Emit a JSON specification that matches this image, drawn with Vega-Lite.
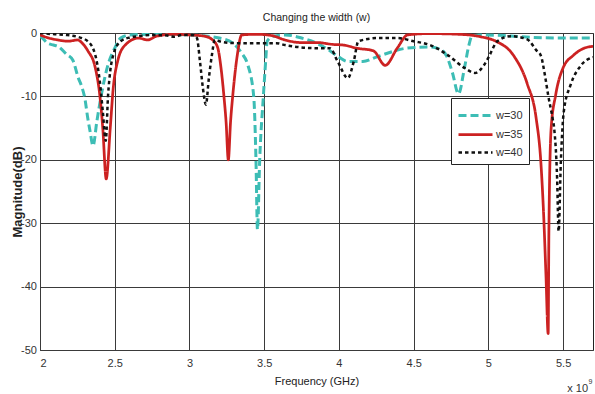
{
  "$schema": "https://vega.github.io/schema/vega-lite/v6.json",
  "width": 553,
  "height": 317,
  "autosize": {"type": "none"},
  "padding": {"left": 40, "top": 33, "right": 2, "bottom": 44},
  "background": "white",
  "title": {
    "text": "Changing the width (w)",
    "font": "Liberation Sans, Arial, sans-serif",
    "fontSize": 10.5,
    "fontWeight": "normal",
    "color": "#222222",
    "offset": 4
  },
  "config": {
    "view": {"stroke": "#222222", "strokeWidth": 1},
    "axis": {
      "domain": false,
      "grid": true,
      "gridColor": "#3a3a3a",
      "gridOpacity": 1,
      "gridWidth": 1,
      "ticks": false,
      "tickSize": 0,
      "labelFont": "Liberation Sans, Arial, sans-serif",
      "labelFontSize": 11,
      "labelColor": "#333333",
      "titleFont": "Liberation Sans, Arial, sans-serif",
      "titleFontSize": 11,
      "titleColor": "#222222",
      "titleFontWeight": "normal"
    },
    "legend": {
      "orient": "none",
      "legendX": 411,
      "legendY": 65,
      "strokeColor": "#222222",
      "fillColor": "white",
      "padding": 6,
      "symbolType": "M-1,0H2.4",
      "symbolSize": 400,
      "symbolStrokeWidth": 3,
      "labelFont": "Liberation Sans, Arial, sans-serif",
      "labelFontSize": 11,
      "labelColor": "#333333",
      "rowPadding": 1,
      "labelOffset": 16
    }
  },
  "layer": [
    {
      "data": {
        "values": [
          {"f": 2.00, "db": -0.5, "w": "w=30"},
          {"f": 2.02, "db": -0.9, "w": "w=30"},
          {"f": 2.05, "db": -1.6, "w": "w=30"},
          {"f": 2.09, "db": -1.9, "w": "w=30"},
          {"f": 2.12, "db": -2.1, "w": "w=30"},
          {"f": 2.18, "db": -3.4, "w": "w=30"},
          {"f": 2.22, "db": -4.3, "w": "w=30"},
          {"f": 2.255, "db": -7.0, "w": "w=30"},
          {"f": 2.28, "db": -8.5, "w": "w=30"},
          {"f": 2.30, "db": -10.3, "w": "w=30"},
          {"f": 2.32, "db": -13.5, "w": "w=30"},
          {"f": 2.335, "db": -15.5, "w": "w=30"},
          {"f": 2.355, "db": -17.8, "w": "w=30"},
          {"f": 2.38, "db": -14.0, "w": "w=30"},
          {"f": 2.41, "db": -9.8, "w": "w=30"},
          {"f": 2.455, "db": -5.0, "w": "w=30"},
          {"f": 2.50, "db": -2.4, "w": "w=30"},
          {"f": 2.54, "db": -0.8, "w": "w=30"},
          {"f": 2.60, "db": -0.3, "w": "w=30"},
          {"f": 2.80, "db": -0.2, "w": "w=30"},
          {"f": 3.00, "db": -0.3, "w": "w=30"},
          {"f": 3.20, "db": -0.8, "w": "w=30"},
          {"f": 3.29, "db": -1.6, "w": "w=30"},
          {"f": 3.35, "db": -3.2, "w": "w=30"},
          {"f": 3.39, "db": -5.0, "w": "w=30"},
          {"f": 3.43, "db": -10.0, "w": "w=30"},
          {"f": 3.445, "db": -20.0, "w": "w=30"},
          {"f": 3.455, "db": -31.0, "w": "w=30"},
          {"f": 3.47, "db": -20.0, "w": "w=30"},
          {"f": 3.495, "db": -9.8, "w": "w=30"},
          {"f": 3.51, "db": -4.4, "w": "w=30"},
          {"f": 3.52, "db": -1.3, "w": "w=30"},
          {"f": 3.56, "db": -0.5, "w": "w=30"},
          {"f": 3.64, "db": -0.3, "w": "w=30"},
          {"f": 3.75, "db": -0.8, "w": "w=30"},
          {"f": 3.85, "db": -1.6, "w": "w=30"},
          {"f": 3.94, "db": -2.8, "w": "w=30"},
          {"f": 4.00, "db": -3.8, "w": "w=30"},
          {"f": 4.06, "db": -4.5, "w": "w=30"},
          {"f": 4.16, "db": -4.5, "w": "w=30"},
          {"f": 4.25, "db": -3.8, "w": "w=30"},
          {"f": 4.35, "db": -3.0, "w": "w=30"},
          {"f": 4.45, "db": -2.4, "w": "w=30"},
          {"f": 4.60, "db": -2.2, "w": "w=30"},
          {"f": 4.68, "db": -2.6, "w": "w=30"},
          {"f": 4.72, "db": -3.6, "w": "w=30"},
          {"f": 4.76, "db": -6.3, "w": "w=30"},
          {"f": 4.80, "db": -9.6, "w": "w=30"},
          {"f": 4.84, "db": -5.5, "w": "w=30"},
          {"f": 4.87, "db": -1.9, "w": "w=30"},
          {"f": 4.89, "db": -0.5, "w": "w=30"},
          {"f": 4.95, "db": -0.3, "w": "w=30"},
          {"f": 5.10, "db": -0.4, "w": "w=30"},
          {"f": 5.30, "db": -0.7, "w": "w=30"},
          {"f": 5.50, "db": -0.8, "w": "w=30"},
          {"f": 5.70, "db": -0.8, "w": "w=30"},

          {"f": 2.00, "db": -0.3, "w": "w=35"},
          {"f": 2.06, "db": -0.8, "w": "w=35"},
          {"f": 2.12, "db": -1.1, "w": "w=35"},
          {"f": 2.19, "db": -1.3, "w": "w=35"},
          {"f": 2.25, "db": -1.1, "w": "w=35"},
          {"f": 2.29, "db": -1.8, "w": "w=35"},
          {"f": 2.32, "db": -2.8, "w": "w=35"},
          {"f": 2.37, "db": -5.5, "w": "w=35"},
          {"f": 2.40, "db": -9.8, "w": "w=35"},
          {"f": 2.42, "db": -15.0, "w": "w=35"},
          {"f": 2.443, "db": -23.0, "w": "w=35"},
          {"f": 2.47, "db": -15.0, "w": "w=35"},
          {"f": 2.49, "db": -8.7, "w": "w=35"},
          {"f": 2.52, "db": -4.4, "w": "w=35"},
          {"f": 2.57, "db": -1.9, "w": "w=35"},
          {"f": 2.66, "db": -0.8, "w": "w=35"},
          {"f": 2.72, "db": -1.1, "w": "w=35"},
          {"f": 2.78, "db": -0.5, "w": "w=35"},
          {"f": 2.90, "db": -0.2, "w": "w=35"},
          {"f": 3.00, "db": -0.3, "w": "w=35"},
          {"f": 3.10, "db": -0.5, "w": "w=35"},
          {"f": 3.16, "db": -1.2, "w": "w=35"},
          {"f": 3.19, "db": -2.4, "w": "w=35"},
          {"f": 3.21, "db": -5.3, "w": "w=35"},
          {"f": 3.23, "db": -9.8, "w": "w=35"},
          {"f": 3.245, "db": -14.0, "w": "w=35"},
          {"f": 3.26, "db": -20.0, "w": "w=35"},
          {"f": 3.275, "db": -14.0, "w": "w=35"},
          {"f": 3.29, "db": -9.8, "w": "w=35"},
          {"f": 3.32, "db": -3.5, "w": "w=35"},
          {"f": 3.35, "db": -0.3, "w": "w=35"},
          {"f": 3.45, "db": -0.2, "w": "w=35"},
          {"f": 3.55, "db": -0.4, "w": "w=35"},
          {"f": 3.64, "db": -1.1, "w": "w=35"},
          {"f": 3.74, "db": -1.5, "w": "w=35"},
          {"f": 3.85, "db": -1.5, "w": "w=35"},
          {"f": 3.96, "db": -1.8, "w": "w=35"},
          {"f": 4.03, "db": -1.9, "w": "w=35"},
          {"f": 4.12, "db": -2.4, "w": "w=35"},
          {"f": 4.23, "db": -2.8, "w": "w=35"},
          {"f": 4.31, "db": -5.1, "w": "w=35"},
          {"f": 4.39, "db": -2.4, "w": "w=35"},
          {"f": 4.46, "db": -0.3, "w": "w=35"},
          {"f": 4.60, "db": -0.1, "w": "w=35"},
          {"f": 4.80, "db": -0.2, "w": "w=35"},
          {"f": 4.95, "db": -0.6, "w": "w=35"},
          {"f": 5.05, "db": -1.3, "w": "w=35"},
          {"f": 5.17, "db": -3.6, "w": "w=35"},
          {"f": 5.26, "db": -8.0, "w": "w=35"},
          {"f": 5.32, "db": -13.5, "w": "w=35"},
          {"f": 5.35, "db": -20.0, "w": "w=35"},
          {"f": 5.37, "db": -28.8, "w": "w=35"},
          {"f": 5.385, "db": -38.0, "w": "w=35"},
          {"f": 5.40, "db": -47.4, "w": "w=35"},
          {"f": 5.405, "db": -31.0, "w": "w=35"},
          {"f": 5.42, "db": -15.0, "w": "w=35"},
          {"f": 5.45, "db": -9.8, "w": "w=35"},
          {"f": 5.50, "db": -5.5, "w": "w=35"},
          {"f": 5.57, "db": -3.5, "w": "w=35"},
          {"f": 5.64, "db": -2.4, "w": "w=35"},
          {"f": 5.70, "db": -2.1, "w": "w=35"},

          {"f": 2.00, "db": 0.0, "w": "w=40"},
          {"f": 2.10, "db": -0.2, "w": "w=40"},
          {"f": 2.17, "db": -0.3, "w": "w=40"},
          {"f": 2.25, "db": -0.6, "w": "w=40"},
          {"f": 2.32, "db": -1.3, "w": "w=40"},
          {"f": 2.37, "db": -3.5, "w": "w=40"},
          {"f": 2.40, "db": -7.6, "w": "w=40"},
          {"f": 2.42, "db": -12.3, "w": "w=40"},
          {"f": 2.44, "db": -17.0, "w": "w=40"},
          {"f": 2.455, "db": -10.0, "w": "w=40"},
          {"f": 2.47, "db": -6.0, "w": "w=40"},
          {"f": 2.49, "db": -3.5, "w": "w=40"},
          {"f": 2.54, "db": -1.3, "w": "w=40"},
          {"f": 2.60, "db": -0.7, "w": "w=40"},
          {"f": 2.66, "db": -0.5, "w": "w=40"},
          {"f": 2.75, "db": -0.3, "w": "w=40"},
          {"f": 2.85, "db": -0.4, "w": "w=40"},
          {"f": 2.90, "db": -0.6, "w": "w=40"},
          {"f": 2.95, "db": -0.3, "w": "w=40"},
          {"f": 3.02, "db": -0.3, "w": "w=40"},
          {"f": 3.05, "db": -0.8, "w": "w=40"},
          {"f": 3.07, "db": -4.4, "w": "w=40"},
          {"f": 3.09, "db": -8.7, "w": "w=40"},
          {"f": 3.11, "db": -11.3, "w": "w=40"},
          {"f": 3.13, "db": -7.1, "w": "w=40"},
          {"f": 3.15, "db": -3.5, "w": "w=40"},
          {"f": 3.17, "db": -1.1, "w": "w=40"},
          {"f": 3.20, "db": -1.3, "w": "w=40"},
          {"f": 3.31, "db": -1.6, "w": "w=40"},
          {"f": 3.42, "db": -1.6, "w": "w=40"},
          {"f": 3.58, "db": -1.6, "w": "w=40"},
          {"f": 3.64, "db": -1.9, "w": "w=40"},
          {"f": 3.86, "db": -2.4, "w": "w=40"},
          {"f": 3.94, "db": -2.4, "w": "w=40"},
          {"f": 3.99, "db": -4.4, "w": "w=40"},
          {"f": 4.06, "db": -7.1, "w": "w=40"},
          {"f": 4.10, "db": -4.4, "w": "w=40"},
          {"f": 4.13, "db": -1.3, "w": "w=40"},
          {"f": 4.26, "db": -0.8, "w": "w=40"},
          {"f": 4.39, "db": -0.8, "w": "w=40"},
          {"f": 4.50, "db": -1.3, "w": "w=40"},
          {"f": 4.61, "db": -1.9, "w": "w=40"},
          {"f": 4.73, "db": -3.5, "w": "w=40"},
          {"f": 4.84, "db": -5.5, "w": "w=40"},
          {"f": 4.91, "db": -6.3, "w": "w=40"},
          {"f": 4.97, "db": -5.1, "w": "w=40"},
          {"f": 5.00, "db": -3.9, "w": "w=40"},
          {"f": 5.06, "db": -1.3, "w": "w=40"},
          {"f": 5.15, "db": -0.5, "w": "w=40"},
          {"f": 5.26, "db": -1.0, "w": "w=40"},
          {"f": 5.32, "db": -2.7, "w": "w=40"},
          {"f": 5.35, "db": -3.5, "w": "w=40"},
          {"f": 5.38, "db": -6.9, "w": "w=40"},
          {"f": 5.40, "db": -9.8, "w": "w=40"},
          {"f": 5.43, "db": -13.5, "w": "w=40"},
          {"f": 5.44, "db": -15.0, "w": "w=40"},
          {"f": 5.46, "db": -23.0, "w": "w=40"},
          {"f": 5.47, "db": -31.3, "w": "w=40"},
          {"f": 5.485, "db": -20.2, "w": "w=40"},
          {"f": 5.505, "db": -12.3, "w": "w=40"},
          {"f": 5.55, "db": -8.2, "w": "w=40"},
          {"f": 5.62, "db": -5.1, "w": "w=40"},
          {"f": 5.70, "db": -3.8, "w": "w=40"}
        ]
      },
      "mark": {"type": "line", "interpolate": "monotone", "clip": true, "strokeCap": "butt"},
      "encoding": {
        "x": {
          "field": "f",
          "type": "quantitative",
          "scale": {"domain": [2, 5.7], "nice": false, "zero": false},
          "axis": {
            "values": [2, 2.5, 3, 3.5, 4, 4.5, 5, 5.5],
            "labelExpr": "'' + datum.value",
            "labelPadding": 7,
            "title": "Frequency (GHz)",
            "titlePadding": 7
          }
        },
        "y": {
          "field": "db",
          "type": "quantitative",
          "scale": {"domain": [-50, 0], "nice": false, "zero": false},
          "axis": {
            "values": [-50, -40, -30, -20, -10, 0],
            "labelExpr": "'' + datum.value",
            "labelPadding": 3.5,
            "title": "Magnitude(dB)",
            "titleFont": "Liberation Sans, Arial, sans-serif",
            "titleFontWeight": "bold",
            "titleFontSize": 13,
            "titlePadding": -4
          }
        },
        "color": {
          "field": "w",
          "type": "nominal",
          "scale": {"domain": ["w=30", "w=35", "w=40"], "range": ["#3dbdb5", "#cc2222", "#111111"]},
          "legend": {"title": null}
        },
        "strokeDash": {
          "field": "w",
          "type": "nominal",
          "scale": {"domain": ["w=30", "w=35", "w=40"], "range": [[8, 4], [1, 0], [3.5, 3]]},
          "legend": {"title": null}
        },
        "strokeWidth": {
          "field": "w",
          "type": "nominal",
          "scale": {"domain": ["w=30", "w=35", "w=40"], "range": [3, 2.5, 4]},
          "legend": {"title": null}
        }
      }
    },
    {
      "data": {"values": [{"t": "x 10"}]},
      "mark": {
        "type": "text",
        "align": "right",
        "baseline": "alphabetic",
        "dx": -5,
        "dy": 42,
        "font": "Liberation Sans, Arial, sans-serif",
        "fontSize": 11,
        "color": "#333333"
      },
      "encoding": {
        "x": {"datum": 5.7, "type": "quantitative"},
        "y": {"datum": -50, "type": "quantitative"},
        "text": {"field": "t"}
      }
    },
    {
      "data": {"values": [{"t": "9"}]},
      "mark": {
        "type": "text",
        "align": "left",
        "baseline": "alphabetic",
        "dx": -4.5,
        "dy": 34,
        "font": "Liberation Sans, Arial, sans-serif",
        "fontSize": 7,
        "color": "#333333"
      },
      "encoding": {
        "x": {"datum": 5.7, "type": "quantitative"},
        "y": {"datum": -50, "type": "quantitative"},
        "text": {"field": "t"}
      }
    }
  ]
}
